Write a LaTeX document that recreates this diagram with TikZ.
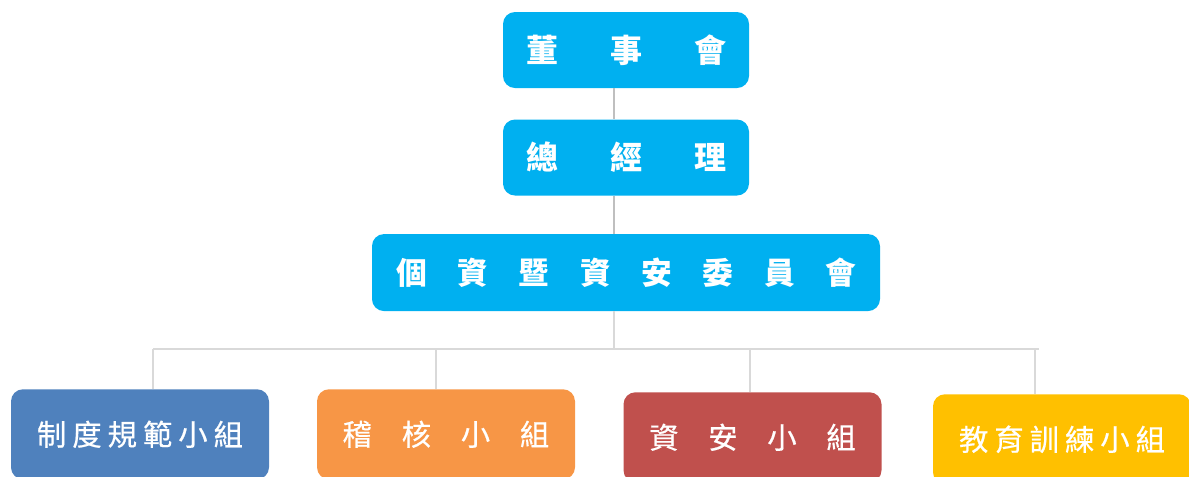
\documentclass[tikz,border=0pt]{standalone}
\usepackage{fontspec}
\usepackage{tikz}
\usetikzlibrary{positioning}
\usepackage{xcolor}
\newfontfamily\cjk{Noto Sans CJK TC}
\newfontfamily\cjkteam[FakeBold=0.6]{Noto Sans CJK TC}
\definecolor{headblue}{HTML}{00B0F0}
\definecolor{policyblue}{HTML}{4F81BD}
\definecolor{auditorange}{HTML}{F79646}
\definecolor{securityred}{HTML}{C0504D}
\definecolor{trainingyellow}{HTML}{FFC000}
\definecolor{linkgray}{HTML}{BFBFBF}
\definecolor{busgray}{HTML}{D9D9D9}

\begin{document}
\begin{tikzpicture}[x=0.75pt, y=-0.75pt, node distance=23.25pt,
    head/.style={rounded corners=9pt, fill=headblue, text=white, inner sep=0pt,
        minimum width=184.5pt, minimum height=57pt,
        font=\cjk\bfseries\fontsize{24}{24}\selectfont},
    team/.style={rounded corners=9pt, text=white, inner sep=0pt, anchor=north,
        minimum width=193.5pt, minimum height=67.5pt,
        font=\cjkteam\fontsize{22}{22}\selectfont},
    link/.style={draw=linkgray, line width=1.5pt},
    bus/.style={draw=busgray, line width=1.5pt}]
    \useasboundingbox (0,0) rectangle (1189,476);

    \node[head] (board) at (626,50) {董\hspace{39pt}事\hspace{39pt}會};
    \node[head, below=of board] (ceo) {總\hspace{39pt}經\hspace{39pt}理};
    \node[head, below=28.5pt of ceo, minimum width=381pt, minimum height=57.75pt,
        font=\cjk\bfseries\fontsize{23}{23}\selectfont] (committee)
        {個\hspace{23pt}資\hspace{23pt}暨\hspace{23pt}資\hspace{23pt}安\hspace{23pt}委\hspace{23pt}員\hspace{23pt}會};

    \node[team, fill=policyblue] (policy) at (140,389) {制\hspace{4.5pt}度\hspace{4.5pt}規\hspace{4.5pt}範\hspace{4.5pt}小\hspace{4.5pt}組};
    \node[team, fill=auditorange] (audit) at (446,389) {稽\hspace{22.3pt}核\hspace{22.3pt}小\hspace{22.3pt}組};
    \node[team, fill=securityred] (security) at (752.5,392) {資\hspace{22.3pt}安\hspace{22.3pt}小\hspace{22.3pt}組};
    \node[team, fill=trainingyellow] (training) at (1062,394) {教\hspace{4.5pt}育\hspace{4.5pt}訓\hspace{4.5pt}練\hspace{4.5pt}小\hspace{4.5pt}組};

    \coordinate (trunk) at (614,349);
    \coordinate (drop-policy) at (153,349);
    \coordinate (drop-audit) at (436,349);
    \coordinate (drop-security) at (750,349);
    \coordinate (drop-training) at (1035,349);

    \draw[link] (board.south -| trunk) -- (ceo.north -| trunk);
    \draw[link] (ceo.south -| trunk) -- (committee.north -| trunk);
    \draw[bus] (committee.south -| trunk) -- (trunk);
    \draw[bus] (drop-policy) -- ([xshift=3pt]drop-training);
    \draw[bus] (drop-policy) -- (drop-policy |- policy.north);
    \draw[bus] (drop-audit) -- (drop-audit |- audit.north);
    \draw[bus] (drop-security) -- (drop-security |- security.north);
    \draw[bus] (drop-training) -- (drop-training |- training.north);
\end{tikzpicture}
\end{document}
